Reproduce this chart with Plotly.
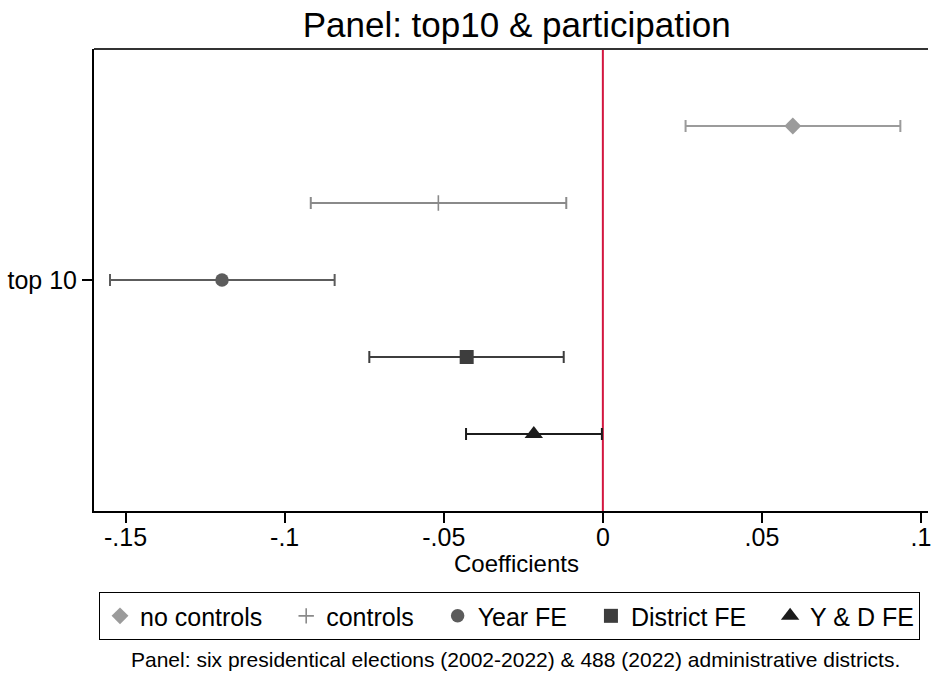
import plotly.graph_objects as go

# ---- data ----
series_names = ["no controls", "controls", "Year FE", "District FE", "Y & D FE"]
coef = [0.0597, -0.0517, -0.1197, -0.0428, -0.0217]
ci_low = [0.0260, -0.0918, -0.1549, -0.0734, -0.0430]
ci_high = [0.0935, -0.0115, -0.0843, -0.0123, -0.0003]
category_labels = ["top 10"]
xtick_vals = [-0.15, -0.1, -0.05, 0, 0.05, 0.1]
xtick_text = ["-.15", "-.1", "-.05", "0", ".05", ".1"]

# ---- styles ----
colors = ["#9b9b9b", "#8a8a8a", "#5c5c5c", "#3d3d3d", "#1c1c1c"]
symbols = ["diamond", "cross-thin", "circle", "square", "triangle-up"]
sizes = [13, 11, 13.5, 14, 16]
offsets = [0.4, 0.2, 0.0, -0.2, -0.4]
FONT = "Liberation Sans, Arial, Helvetica, sans-serif"
PAD = "\u00a0\u00a0\u2009"

fig = go.Figure()
n = len(series_names)
for i, name in enumerate(series_names):
    is_cross = symbols[i] == "cross-thin"
    fig.add_trace(go.Scatter(
        x=[coef[i]], y=[offsets[i]], mode="markers",
        name=name + (PAD if i < n - 1 else ""),
        marker=dict(symbol=symbols[i], size=sizes[i], color=colors[i],
                    line=dict(width=1.6 if is_cross else 0, color=colors[i])),
        error_x=dict(type="data", symmetric=False,
                     array=[ci_high[i] - coef[i]], arrayminus=[coef[i] - ci_low[i]],
                     color=colors[i], thickness=2, width=6),
    ))

fig.add_vline(x=0, line=dict(color="#d3163f", width=2), layer="below")

fig.update_layout(
    width=931, height=677,
    margin=dict(l=94, r=0, t=49, b=166),
    paper_bgcolor="white", plot_bgcolor="white",
    font=dict(family=FONT, size=25, color="black"),
    title=dict(text="Panel: top10 & participation", x=0.555, xanchor="center",
               y=0.964, yanchor="middle", font=dict(size=35, color="black")),
    xaxis=dict(range=[-0.15993, 0.10219], tickvals=xtick_vals, ticktext=xtick_text,
               showgrid=False, zeroline=False, showline=True, linecolor="black",
               linewidth=2, mirror=False, ticks="outside", ticklen=10, tickwidth=1.5,
               tickcolor="black", tickfont=dict(size=25), ticklabeloverflow="allow",
               ticklabelstandoff=-7),
    yaxis=dict(range=[-0.6, 0.6], tickvals=[0], ticktext=category_labels,
               showgrid=False, zeroline=False, showline=True, linecolor="black",
               linewidth=2, ticks="outside", ticklen=10, tickwidth=1.5,
               tickcolor="black", tickfont=dict(size=25)),
    legend=dict(orientation="h", x=0.006, xanchor="left", y=-0.1755, yanchor="top",
                bordercolor="black", borderwidth=1, font=dict(size=25),
                itemsizing="trace"),
    showlegend=True,
)

# top frame line
fig.add_shape(type="line", xref="paper", yref="paper", x0=0, x1=1, y0=1, y1=1,
              line=dict(color="#333333", width=2))

fig.add_annotation(text="Coefficients", xref="paper", yref="paper", x=0.5066, y=-0.1147,
                   xanchor="center", yanchor="middle", showarrow=False,
                   font=dict(size=24, color="black"))

fig.add_annotation(text="Panel: six presidentical elections (2002-2022) & 488 (2022) administrative districts.",
                   xref="paper", yref="paper", x=0.5054, y=-0.3225, xanchor="center", yanchor="middle",
                   showarrow=False, font=dict(size=21, color="black"))

fig.write_html(
    "out.html", config={"displayModeBar": False},
    post_script=(
        "document.body.style.margin='0px';"
        "document.body.style.overflow='hidden';"
        "document.documentElement.style.overflow='hidden';"
        "var s=document.querySelectorAll('svg.main-svg');"
        "s.forEach(function(e){e.style.overflow='hidden';});"
    ),
)
